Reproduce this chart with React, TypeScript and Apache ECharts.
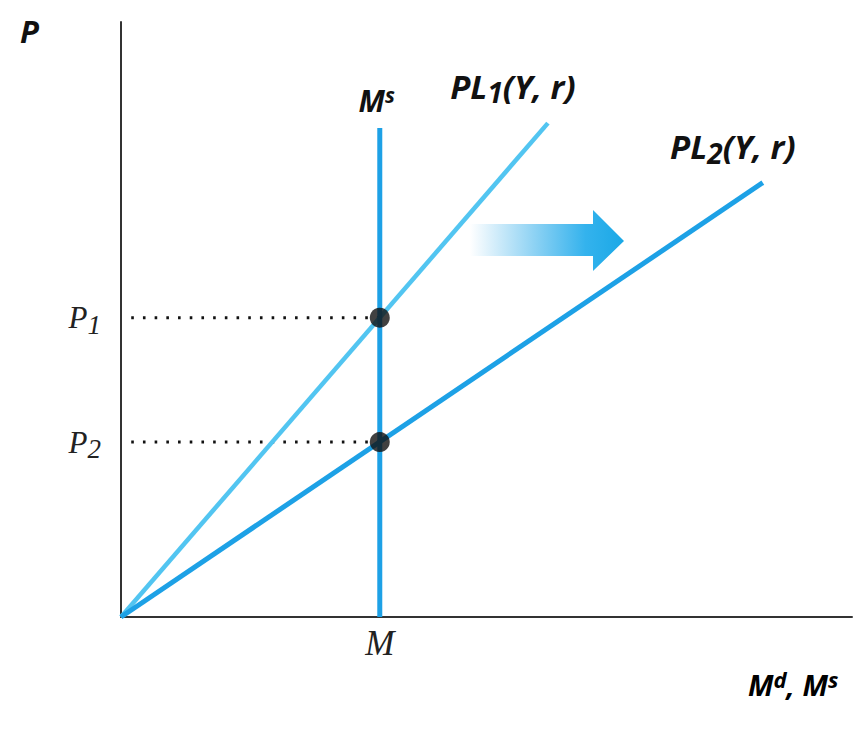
import React, { useEffect, useRef } from "react";
import * as echarts from "echarts";

// Data (axis units 0..100)
const mValue = 35.4;
const p1Value = 50.3;
const p2Value = 29.4;
const msLine = [[35.4, 0], [35.4, 82.2]];
const pl1Line = [[0, 0], [58.4, 83]];
const pl2Line = [[0, 0], [87.8, 73]];
const equilibria = [[35.4, 50.3], [35.4, 29.4]];
const yTickLabels = ["P2", "P1"];
const xTickLabels = ["M"];

const DARK = "#1da1e6";
const LIGHT = "#52c5f1";
const SANS = "'Open Sans', Lato, sans-serif";
const SERIF = "'Liberation Serif', 'DejaVu Serif', serif";

export default function App() {
  const ref = useRef<HTMLDivElement>(null);
  useEffect(() => {
    if (!ref.current) return;
    const chart = echarts.init(ref.current, undefined, { renderer: "svg" });
    const base = { fontFamily: SANS, fontStyle: "italic", fontWeight: "bold", color: "#111" };
    const labelRich = {
      big: { ...base, fontSize: 33 },
      sub: { ...base, fontSize: 28, padding: [12, 0, 0, 0] },
      mbig: { ...base, fontSize: 30 },
      sup: { ...base, fontSize: 21, padding: [0, 0, 12, 0] },
      ax: { ...base, fontSize: 29 },
      axs: { ...base, fontSize: 22, padding: [0, 0, 11, 0] },
      sb: { fontFamily: SERIF, fontStyle: "italic", fontSize: 31, color: "#222" },
      ss: { fontFamily: SERIF, fontStyle: "italic", fontSize: 27, color: "#222", padding: [14, 0, 0, 0] },
      mb: { fontFamily: SERIF, fontStyle: "italic", fontSize: 35, color: "#222" },
    };
    const dots = (y: number) => ({
      type: "line",
      data: [[1.4, y], [mValue, y]],
      symbol: "none",
      lineStyle: { color: "#111", width: 3, type: [2.6, 9.1], cap: "butt" },
      silent: true,
      z: 1,
    });
    chart.setOption({
      animation: false,
      grid: { left: 121, top: 22, width: 731, height: 595 },
      xAxis: {
        type: "value",
        min: 0,
        max: 100,
        splitLine: { show: false },
        axisLine: { show: true, lineStyle: { color: "#333", width: 2 } },
        axisTick: { show: false },
        axisLabel: {
          customValues: [mValue],
          formatter: () => "{mb|" + xTickLabels[0] + "}",
          rich: labelRich,
          margin: 9,
        },
      },
      yAxis: {
        type: "value",
        min: 0,
        max: 100,
        splitLine: { show: false },
        axisLine: { show: true, lineStyle: { color: "#333", width: 2 } },
        axisTick: { show: false },
        axisLabel: {
          customValues: [p2Value, p1Value],
          formatter: (v: number) => {
            const t = v === p1Value ? yTickLabels[1] : yTickLabels[0];
            return "{sb|" + t[0] + "}{ss|" + t.slice(1) + "}";
          },
          rich: labelRich,
          margin: 20,
        },
      },
      series: [
        dots(p1Value),
        dots(p2Value),
        {
          type: "line",
          data: pl1Line.map((d, i) =>
            i === 1
              ? {
                  value: d,
                  label: {
                    show: true,
                    position: "inside",
                    offset: [-35, -37],
                    formatter: "{big|PL}{sub|1}{big|(Y, r)}",
                    rich: labelRich,
                  },
                }
              : d
          ),
          showSymbol: true,
          symbolSize: 0,
          lineStyle: { color: LIGHT, width: 4.5 },
          itemStyle: { color: LIGHT },
          z: 2,
        },
        {
          type: "line",
          data: pl2Line.map((d, i) =>
            i === 1
              ? {
                  value: d,
                  label: {
                    show: true,
                    position: "inside",
                    offset: [-30, -36],
                    formatter: "{big|PL}{sub|2}{big|(Y, r)}",
                    rich: labelRich,
                  },
                }
              : d
          ),
          showSymbol: true,
          symbolSize: 0,
          lineStyle: { color: DARK, width: 5 },
          itemStyle: { color: DARK },
          z: 3,
        },
        {
          type: "line",
          data: msLine.map((d, i) =>
            i === 1
              ? {
                  value: d,
                  label: {
                    show: true,
                    position: "inside",
                    offset: [-3, -27],
                    formatter: "{mbig|M}{sup|s}",
                    rich: labelRich,
                  },
                }
              : d
          ),
          showSymbol: true,
          symbolSize: 0,
          lineStyle: { color: DARK, width: 5 },
          itemStyle: { color: DARK },
          z: 4,
        },
        {
          type: "scatter",
          data: equilibria,
          symbolSize: 20,
          itemStyle: { color: "#111" },
          z: 5,
        },
      ],
      graphic: [
        {
          type: "text",
          left: 20,
          top: 15,
          style: { text: "P", font: "italic bold 31px " + SANS, fill: "#111" },
        },
        {
          type: "text",
          left: 748,
          top: 668,
          style: {
            text: "{ax|M}{axs|d}{ax|, M}{axs|s}",
            rich: labelRich,
          },
        },
        {
          type: "polygon",
          shape: {
            points: [
              [470, 224],
              [593, 224],
              [593, 210],
              [624, 241],
              [593, 271],
              [593, 256],
              [470, 256],
            ],
          },
          style: {
            fill: new echarts.graphic.LinearGradient(0, 0, 1, 0, [
              { offset: 0, color: "rgba(29,161,230,0)" },
              { offset: 0.75, color: "rgba(29,170,235,0.9)" },
              { offset: 1, color: "#1aa8e6" },
            ]),
          },
        },
      ],
    });
    return () => chart.dispose();
  }, []);
  return (
    <div
      ref={ref}
      style={{ position: "fixed", left: 0, top: 0, width: 867, height: 733, background: "#fff" }}
    />
  );
}
